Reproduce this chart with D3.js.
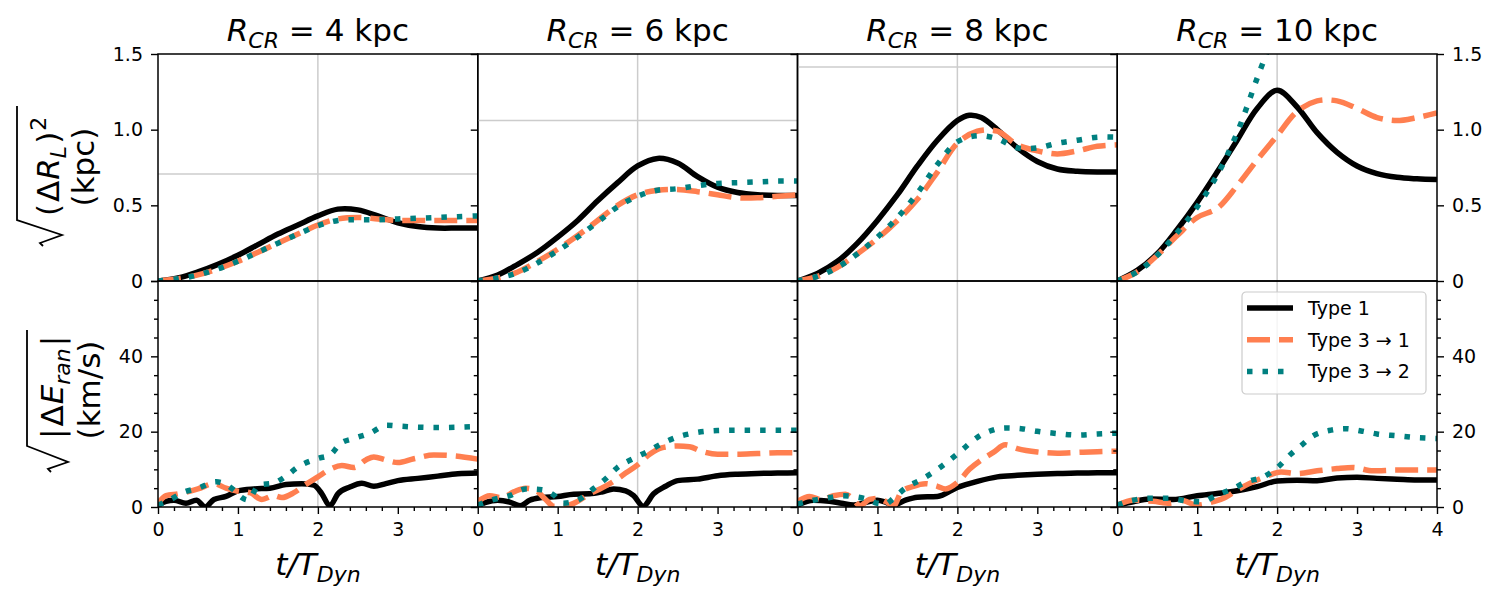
<!DOCTYPE html>
<html>
<head>
<meta charset="utf-8">
<script src="https://cdn.jsdelivr.net/npm/d3@7"></script>
<style>
  body { margin: 0; background: #fff; }
  svg { font-family: "DejaVu Sans", sans-serif; }
  text { white-space: pre; }
</style>
</head>
<body>
<svg id="chart" width="1500" height="602"></svg>
<script>
// corotation radius of each column
const radii = [4, 6, 8, 10];
const seriesNames = ["Type 1", "Type 3 \u2192 1", "Type 3 \u2192 2"];
const topTicks = [0, 0.5, 1.0, 1.5];
const topTickLabels = ["0", "0.5", "1.0", "1.5"];
const bottomTicks = [0, 20, 40];
// horizontal guide in the top row, one per panel (kpc)
const guideLevels = [0.707, 1.061, 1.414, 1.768];

// sqrt((dR_L)^2) in kpc, [t/T_dyn, value]
const dR4_type1 = [[0,0],[0.25,0.02],[0.5,0.06],[0.75,0.11],[1,0.17],[1.25,0.24],[1.5,0.31],[1.75,0.37],[2,0.43],[2.25,0.475],[2.5,0.47],[2.75,0.43],[3,0.385],[3.25,0.36],[3.5,0.35],[3.75,0.35],[4,0.35]];
const dR4_type31 = [[0,0],[0.25,0.015],[0.5,0.04],[0.75,0.08],[1,0.13],[1.25,0.19],[1.5,0.25],[1.75,0.31],[2,0.37],[2.25,0.41],[2.5,0.42],[2.75,0.41],[3,0.4],[3.25,0.4],[3.5,0.4],[3.75,0.4],[4,0.4]];
const dR4_type32 = [[0,0],[0.25,0.015],[0.5,0.04],[0.75,0.08],[1,0.13],[1.25,0.19],[1.5,0.25],[1.75,0.31],[2,0.365],[2.25,0.4],[2.5,0.405],[2.75,0.405],[3,0.41],[3.25,0.415],[3.5,0.42],[3.75,0.425],[4,0.43]];

const dR6_type1 = [[0,0],[0.25,0.04],[0.5,0.11],[0.75,0.19],[1,0.29],[1.25,0.4],[1.5,0.53],[1.75,0.65],[2,0.76],[2.25,0.81],[2.5,0.78],[2.75,0.69],[3,0.62],[3.25,0.585],[3.5,0.57],[3.75,0.565],[4,0.565]];
const dR6_type31 = [[0,0],[0.25,0.02],[0.5,0.06],[0.75,0.13],[1,0.21],[1.25,0.3],[1.5,0.4],[1.75,0.5],[2,0.57],[2.25,0.6],[2.5,0.605],[2.75,0.59],[3,0.57],[3.25,0.55],[3.5,0.55],[3.75,0.56],[4,0.57]];
const dR6_type32 = [[0,0],[0.25,0.02],[0.5,0.055],[0.75,0.12],[1,0.2],[1.25,0.29],[1.5,0.39],[1.75,0.49],[2,0.56],[2.25,0.6],[2.5,0.61],[2.75,0.63],[3,0.645],[3.25,0.65],[3.5,0.655],[3.75,0.66],[4,0.66]];

const dR8_type1 = [[0,0],[0.25,0.05],[0.5,0.13],[0.75,0.25],[1,0.4],[1.25,0.57],[1.5,0.76],[1.75,0.93],[2,1.06],[2.15,1.095],[2.3,1.08],[2.5,1.0],[2.75,0.88],[3,0.79],[3.25,0.74],[3.5,0.725],[3.75,0.72],[4,0.72]];
const dR8_type31 = [[0,0],[0.25,0.03],[0.5,0.09],[0.75,0.18],[1,0.28],[1.25,0.4],[1.5,0.54],[1.75,0.72],[2,0.91],[2.25,0.99],[2.5,0.99],[2.75,0.9],[3,0.86],[3.25,0.84],[3.5,0.86],[3.75,0.89],[4,0.9]];
const dR8_type32 = [[0,0],[0.25,0.03],[0.5,0.09],[0.75,0.18],[1,0.29],[1.25,0.42],[1.5,0.58],[1.75,0.77],[2,0.92],[2.25,0.96],[2.5,0.94],[2.75,0.88],[3,0.88],[3.25,0.91],[3.5,0.93],[3.75,0.95],[4,0.95]];

const dR10_type1 = [[0,0],[0.25,0.07],[0.5,0.18],[0.75,0.34],[1,0.52],[1.25,0.72],[1.5,0.93],[1.75,1.14],[2,1.26],[2.25,1.15],[2.5,0.98],[2.75,0.85],[3,0.76],[3.25,0.71],[3.5,0.685],[3.75,0.675],[4,0.67]];
const dR10_type31 = [[0,0],[0.25,0.06],[0.5,0.17],[0.75,0.3],[1,0.42],[1.25,0.48],[1.5,0.63],[1.75,0.8],[2,0.96],[2.25,1.12],[2.5,1.19],[2.75,1.19],[3,1.14],[3.25,1.08],[3.5,1.06],[3.75,1.08],[4,1.11]];
const dR10_type32 = [[0,0],[0.25,0.06],[0.5,0.17],[0.75,0.32],[1,0.49],[1.25,0.7],[1.5,0.98],[1.75,1.34],[1.9,1.55]];

// sqrt(|dE_ran|) in km/s, [t/T_dyn, value]
const dE4_type1 = [[0,0.5],[0.1,1.5],[0.2,1.8],[0.35,1.0],[0.48,1.8],[0.59,0],[0.7,2.0],[0.85,2.8],[1,4.3],[1.2,4.8],[1.4,5.0],[1.6,6.0],[1.8,6.2],[1.95,5.8],[2.05,3.5],[2.15,0.3],[2.25,3.5],[2.4,5.3],[2.55,6.3],[2.7,5.5],[2.85,6.2],[3,7.0],[3.25,7.6],[3.5,8.2],[3.75,8.8],[4,9.0]];
const dE4_type31 = [[0,1.0],[0.1,3.0],[0.25,3.5],[0.5,4.8],[0.7,6.2],[0.85,5.0],[1,4.2],[1.15,3.8],[1.3,2.0],[1.45,3.0],[1.55,2.5],[1.7,3.8],[1.85,6.0],[2,8.0],[2.15,10.0],[2.3,11.0],[2.45,10.5],[2.6,12.5],[2.7,13.3],[2.85,12.5],[3,11.8],[3.2,12.8],[3.45,13.8],[3.7,13.6],[4,12.7]];
const dE4_type32 = [[0,0.5],[0.15,1.9],[0.32,3.9],[0.5,5.0],[0.73,6.7],[0.85,6.0],[0.95,4.5],[1.05,2.5],[1.12,1.9],[1.27,5.9],[1.44,6.3],[1.59,8.0],[1.75,10.6],[2,12.9],[2.15,13.8],[2.28,16.8],[2.45,18.2],[2.65,19.6],[2.86,21.7],[3,21.5],[3.25,21.2],[3.5,21.1],[3.75,21.2],[4,21.4]];

const dE6_type1 = [[0,0.3],[0.1,1.2],[0.25,1.8],[0.4,1.3],[0.53,0.3],[0.65,1.8],[0.8,2.5],[1,2.8],[1.2,3.4],[1.4,3.5],[1.55,4.0],[1.7,4.8],[1.85,4.3],[1.95,3.0],[2.07,0.2],[2.2,3.5],[2.35,5.5],[2.5,7.0],[2.75,7.4],[3,8.3],[3.25,8.7],[3.5,8.9],[3.75,9.0],[4,9.1]];
const dE6_type31 = [[0,1.5],[0.15,3.0],[0.3,2.5],[0.45,4.0],[0.6,5.0],[0.72,4.5],[0.85,2.0],[0.95,0.2],[1.1,0.3],[1.25,1.5],[1.4,3.5],[1.55,5.0],[1.7,6.8],[1.85,9.0],[2,11.2],[2.15,14.0],[2.3,15.7],[2.5,16.2],[2.65,16.0],[2.8,14.8],[3,14.0],[3.25,14.0],[3.5,14.2],[3.75,14.4],[4,14.4]];
const dE6_type32 = [[0,0.5],[0.2,2.0],[0.4,3.0],[0.6,4.8],[0.8,4.6],[0.95,3.2],[1.07,1.0],[1.25,1.8],[1.45,4.9],[1.6,7.5],[1.75,10.5],[1.95,12.9],[2.15,15.0],[2.3,16.8],[2.5,18.6],[2.75,19.8],[3,20.3],[3.25,20.4],[3.5,20.4],[3.75,20.4],[4,20.4]];

const dE8_type1 = [[0,0.5],[0.2,1.8],[0.4,1.5],[0.55,1.0],[0.7,0.5],[0.85,1.2],[1,1.8],[1.1,1.3],[1.2,0.5],[1.35,1.8],[1.5,2.6],[1.75,2.8],[2,5.2],[2.25,6.8],[2.5,8.0],[2.75,8.4],[3,8.7],[3.25,8.9],[3.5,9.0],[3.75,9.1],[4,9.1]];
const dE8_type31 = [[0,1.5],[0.15,2.8],[0.3,2.0],[0.45,3.0],[0.6,3.4],[0.7,2.0],[0.78,0.3],[0.9,2.0],[1,2.3],[1.1,1.5],[1.2,0.3],[1.3,4.0],[1.45,5.5],[1.6,6.2],[1.75,5.5],[1.85,4.8],[2,6.5],[2.15,10.0],[2.3,12.5],[2.45,14.5],[2.6,16.5],[2.75,15.5],[3,14.6],[3.25,14.3],[3.5,14.5],[3.75,14.7],[4,14.8]];
const dE8_type32 = [[0,0.8],[0.2,1.8],[0.4,2.5],[0.55,3.0],[0.7,2.8],[0.85,2.2],[1,1.0],[1.1,0.8],[1.2,2.3],[1.35,5.0],[1.55,7.3],[1.75,10.0],[1.9,12.4],[2.05,15.0],[2.25,18.5],[2.4,20.1],[2.6,21.0],[2.8,20.8],[3,20.1],[3.25,19.5],[3.5,19.1],[3.75,19.4],[4,19.6]];

const dE10_type1 = [[0,0.5],[0.2,1.4],[0.4,2.1],[0.7,2.0],[1,3.0],[1.25,3.6],[1.5,4.3],[1.75,5.4],[2,6.9],[2.25,7.1],[2.5,7.0],[2.75,7.7],[3,7.9],[3.25,7.6],[3.5,7.4],[3.75,7.2],[4,7.2]];
const dE10_type31 = [[0,0.5],[0.2,1.8],[0.45,1.5],[0.66,1.0],[0.8,1.8],[1,0.5],[1.2,1.4],[1.35,2.5],[1.5,4.5],[1.65,6.2],[1.85,8.0],[2.05,9.3],[2.25,8.9],[2.5,9.6],[2.75,10.2],[2.95,10.5],[3.2,9.6],[3.5,9.8],[3.75,9.8],[4,9.8]];
const dE10_type32 = [[0,0.5],[0.2,1.8],[0.4,2.3],[0.65,2.3],[0.87,1.6],[1.05,1.4],[1.25,3.2],[1.45,4.9],[1.62,6.7],[1.83,8.0],[2,10.4],[2.17,14.0],[2.3,16.3],[2.45,18.9],[2.65,20.3],[2.85,20.8],[3.05,20.2],[3.25,19.4],[3.5,18.9],[3.75,18.4],[4,18.2]];

const topData = [
  [dR4_type1, dR4_type31, dR4_type32],
  [dR6_type1, dR6_type31, dR6_type32],
  [dR8_type1, dR8_type31, dR8_type32],
  [dR10_type1, dR10_type31, dR10_type32]
];
const bottomData = [
  [dE4_type1, dE4_type31, dE4_type32],
  [dE6_type1, dE6_type31, dE6_type32],
  [dE8_type1, dE8_type31, dE8_type32],
  [dE10_type1, dE10_type31, dE10_type32]
];

const lineStyles = [
  { color: "#000000", dash: null, width: 5.5 },
  { color: "#ff7f50", dash: "23,9", width: 5.5 },
  { color: "#008080", dash: "5.5,10", width: 5.5 }
];

const svg = d3.select("#chart");
const left = 158, panelW = 319.75;
const topY0 = 54, midY = 281, botY1 = 507;
const font = "DejaVu Sans";
const gridColor = "#cccccc";

const yTop = d3.scaleLinear().domain([0, 1.5]).range([midY, topY0]);
const yBot = d3.scaleLinear().domain([0, 60]).range([botY1, midY]);

function styleAxis(g) {
  g.select(".domain").remove();
  g.attr("font-family", font).attr("font-size", 19);
  g.selectAll("line").attr("stroke", "#000").attr("stroke-width", 1.4);
  g.selectAll("text").attr("fill", "#000");
}

radii.forEach((r, i) => {
  const x0 = left + i * panelW;
  const x = d3.scaleLinear().domain([0, 4]).range([x0, x0 + panelW]);
  const last = i === radii.length - 1;

  [[yTop, topY0, midY, topData[i]], [yBot, midY, botY1, bottomData[i]]].forEach(([y, ya, yb, series], row) => {
    const clipId = `clip-${i}-${row}`;
    svg.append("clipPath").attr("id", clipId)
      .append("rect").attr("x", x0).attr("y", ya).attr("width", panelW).attr("height", yb - ya);

    const g = svg.append("g").attr("clip-path", `url(#${clipId})`);
    // guides
    g.append("line")
      .attr("x1", x(2)).attr("x2", x(2)).attr("y1", ya).attr("y2", yb)
      .attr("stroke", gridColor).attr("stroke-width", 1.5);
    if (row === 0) {
      g.append("line")
        .attr("x1", x0).attr("x2", x0 + panelW)
        .attr("y1", y(guideLevels[i])).attr("y2", y(guideLevels[i]))
        .attr("stroke", gridColor).attr("stroke-width", 1.5);
    }
    const curve = row === 0 ? d3.curveCatmullRom.alpha(0.5) : d3.curveMonotoneX;
    const line = d3.line().x(d => x(d[0])).y(d => y(d[1])).curve(curve);
    series.forEach((s, k) => {
      const st = lineStyles[k];
      g.append("path").datum(s)
        .attr("d", line)
        .attr("fill", "none")
        .attr("stroke", st.color)
        .attr("stroke-width", st.width)
        .attr("stroke-dasharray", st.dash)
        .attr("stroke-linejoin", "round");
    });
  });

  // y axes on the left of each panel
  const yLeftTop = svg.append("g").attr("transform", `translate(${x0},0)`)
    .call(d3.axisLeft(yTop).tickValues(topTicks)
      .tickFormat((d, k) => i === 0 ? topTickLabels[k] : "")
      .tickSize(7).tickPadding(8));
  styleAxis(yLeftTop);
  const yLeftBot = svg.append("g").attr("transform", `translate(${x0},0)`)
    .call(d3.axisLeft(yBot).tickValues(bottomTicks.concat([60]))
      .tickFormat(d => i === 0 && d < 60 ? d : "")
      .tickSize(7).tickPadding(8));
  styleAxis(yLeftBot);
  const yLeftMinor = svg.append("g").attr("transform", `translate(${x0},0)`)
    .call(d3.axisLeft(yBot).tickValues(d3.range(5, 60, 5).filter(v => v % 20 !== 0))
      .tickFormat("").tickSize(4));
  styleAxis(yLeftMinor);

  if (last) {
    const xr = x0 + panelW;
    const yRightTop = svg.append("g").attr("transform", `translate(${xr},0)`)
      .call(d3.axisRight(yTop).tickValues(topTicks)
        .tickFormat((d, k) => topTickLabels[k]).tickSize(7).tickPadding(8));
    styleAxis(yRightTop);
    const yRightBot = svg.append("g").attr("transform", `translate(${xr},0)`)
      .call(d3.axisRight(yBot).tickValues(bottomTicks)
        .tickFormat(d => d).tickSize(7).tickPadding(8));
    styleAxis(yRightBot);
    const yRightMinor = svg.append("g").attr("transform", `translate(${xr},0)`)
      .call(d3.axisRight(yBot).tickValues(d3.range(5, 60, 5).filter(v => v % 20 !== 0))
        .tickFormat("").tickSize(4));
    styleAxis(yRightMinor);
  }

  // x axis on the bottom row
  const xMajor = svg.append("g").attr("transform", `translate(0,${botY1})`)
    .call(d3.axisBottom(x).tickValues(last ? [0, 1, 2, 3, 4] : [0, 1, 2, 3])
      .tickFormat(d3.format("d")).tickSize(7).tickPadding(9));
  styleAxis(xMajor);
  const xMinor = svg.append("g").attr("transform", `translate(0,${botY1})`)
    .call(d3.axisBottom(x).tickValues(d3.range(1, 20).map(v => v / 5).filter(v => v % 1 !== 0))
      .tickFormat("").tickSize(4));
  styleAxis(xMinor);

  // panel frames
  [[topY0, midY], [midY, botY1]].forEach(([ya, yb]) => {
    svg.append("rect")
      .attr("x", x0).attr("y", ya).attr("width", panelW).attr("height", yb - ya)
      .attr("fill", "none").attr("stroke", "#000").attr("stroke-width", 1.5);
  });

  // column title
  const title = svg.append("text")
    .attr("x", x(2)).attr("y", 41)
    .attr("text-anchor", "middle")
    .attr("font-family", font).attr("font-size", 31);
  title.append("tspan").attr("font-style", "italic").text("R");
  title.append("tspan").attr("font-style", "italic").attr("font-size", 22).attr("dy", 7).text("CR");
  title.append("tspan").attr("dy", -7).text(` = ${r} kpc`);

  // x label
  const xl = svg.append("text")
    .attr("x", x(2)).attr("y", 575)
    .attr("text-anchor", "middle")
    .attr("font-family", font).attr("font-size", 31).attr("font-style", "italic");
  xl.append("tspan").text("t/T");
  xl.append("tspan").attr("font-size", 22).attr("dy", 7).text("Dyn");
});

// y label, top row
const ylTop = svg.append("g").attr("transform", "translate(59,168) rotate(-90)")
  .attr("font-family", font).attr("font-size", 31);
const l1 = ylTop.append("text").attr("x", -48).attr("y", 0);
l1.append("tspan").text("(");
l1.append("tspan").attr("dx", 2).text("\u0394");
l1.append("tspan").attr("dx", 1).attr("font-style", "italic").text("R");
l1.append("tspan").attr("font-style", "italic").attr("font-size", 22).attr("dy", 7).text("L");
l1.append("tspan").attr("dx", 2).attr("dy", -7).text(")");
l1.append("tspan").attr("dx", 1).attr("font-size", 22).attr("dy", -13).text("2");
ylTop.append("path")
  .attr("d", "M-78,-16 L-75,-19 L-67,3 L-52,-42 L62,-42")
  .attr("fill", "none").attr("stroke", "#000").attr("stroke-width", 1.8);
ylTop.append("text").attr("x", 1).attr("y", 35).attr("text-anchor", "middle").text("(kpc)");

// y label, bottom row
const ylBot = svg.append("g").attr("transform", "translate(63,394) rotate(-90)")
  .attr("font-family", font).attr("font-size", 31);
const l2 = ylBot.append("text").attr("x", -45).attr("y", 0);
l2.append("tspan").text("|");
l2.append("tspan").attr("dx", 2).text("\u0394");
l2.append("tspan").attr("dx", 1).attr("font-style", "italic").text("E");
l2.append("tspan").attr("font-style", "italic").attr("font-size", 22).attr("dy", 7).text("ran");
l2.append("tspan").attr("dx", 2).attr("dy", -7).text("|");
ylBot.append("path")
  .attr("d", "M-78,-12 L-75,-15 L-68,5 L-52,-36 L64,-36")
  .attr("fill", "none").attr("stroke", "#000").attr("stroke-width", 1.8);
ylBot.append("text").attr("x", 4).attr("y", 37).attr("text-anchor", "middle").text("(km/s)");

// legend in the last bottom panel
const legend = svg.append("g").attr("transform", "translate(1242,292)");
legend.append("rect")
  .attr("width", 184).attr("height", 102).attr("rx", 4)
  .attr("fill", "#fff").attr("fill-opacity", 0.8)
  .attr("stroke", "#cccccc").attr("stroke-width", 1.2);
seriesNames.forEach((name, k) => {
  const st = lineStyles[k];
  const yy = 16 + k * 31.7;
  legend.append("line")
    .attr("x1", 5).attr("x2", 51).attr("y1", yy).attr("y2", yy)
    .attr("stroke", st.color).attr("stroke-width", st.width)
    .attr("stroke-dasharray", st.dash);
  legend.append("text")
    .attr("x", 66).attr("y", yy + 7)
    .attr("font-family", font).attr("font-size", 19)
    .text(name);
});
</script>
</body>
</html>
